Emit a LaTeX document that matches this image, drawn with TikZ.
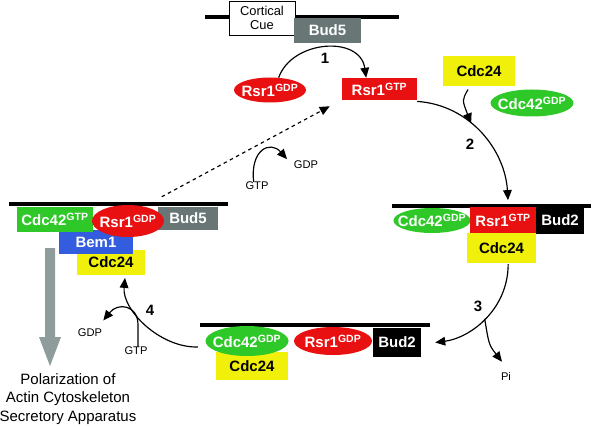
\documentclass[tikz,border=0pt]{standalone}
\usepackage{fontspec}
\setmainfont{Liberation Sans}
\usepackage{tikz}
\usetikzlibrary{shapes.geometric, arrows.meta}
\definecolor{rsrred}{RGB}{232,16,16}
\definecolor{cdcgreen}{RGB}{46,200,40}
\definecolor{cdcyellow}{RGB}{240,240,10}
\definecolor{budgray}{RGB}{104,118,118}
\definecolor{bemblue}{RGB}{52,92,222}
\definecolor{polgray}{RGB}{142,156,156}
\newcommand{\gdp}{\textsuperscript{GDP}}
\newcommand{\gtp}{\textsuperscript{GTP}}
\tikzstyle{prot} = [inner sep=0pt, text=white, font=\fontsize{12.8}{14}\selectfont\bfseries]
\tikzstyle{rsrbox} = [prot, rectangle, fill=rsrred]
\tikzstyle{rsroval} = [prot, ellipse, inner sep=-8pt, fill=rsrred]
\tikzstyle{cdcoval} = [prot, ellipse, inner sep=-8pt, fill=cdcgreen]
\tikzstyle{cdcgtp} = [prot, rectangle, fill=cdcgreen]
\tikzstyle{cdcbox} = [prot, rectangle, fill=cdcyellow, text=black]
\tikzstyle{budbox} = [prot, rectangle, fill=budgray]
\tikzstyle{bembox} = [prot, rectangle, fill=bemblue]
\tikzstyle{bud2box} = [prot, rectangle, fill=black]
\tikzstyle{cuebox} = [rectangle, draw=black, fill=white, line width=0.8pt, inner sep=0pt, align=center, font=\fontsize{11}{12.5}\selectfont]
\tikzstyle{membrane} = [line width=3.4pt]
\tikzstyle{arrow} = [line width=1pt,-{Triangle[length=3mm,width=2.6mm]}]
\tikzstyle{dasharrow} = [arrow, dashed]
\tikzstyle{nuc} = [inner sep=0pt, font=\fontsize{9.5}{11}\selectfont]
\tikzstyle{stepnum} = [inner sep=0pt, font=\fontsize{12.8}{14}\selectfont\bfseries]

\begin{document}
\begin{tikzpicture}[x=0.03cm, y=-0.03cm]
\useasboundingbox (0,0) rectangle (592,427);

\coordinate (mt1) at (205,17);
\coordinate (mt2) at (399,17);
\coordinate (mr1) at (392,206);
\coordinate (mr2) at (591,206);
\coordinate (mb1) at (200,325);
\coordinate (mb2) at (430,325);
\coordinate (ml1) at (9,204);
\coordinate (ml2) at (228,204);
\draw[membrane] (mt1) -- (mt2);
\draw[membrane] (mr1) -- (mr2);
\draw[membrane] (mb1) -- (mb2);
\draw[membrane] (ml1) -- (ml2);

\node (cue) at (262,18) [cuebox, minimum width=1.98cm, minimum height=1.02cm] {Cortical\\Cue};
\node (bud5t) at (327.5,30.5) [budbox, minimum width=2.01cm, minimum height=0.75cm] {Bud5};
\node (rgdp1) at (270,90) [rsroval, minimum width=2.16cm, minimum height=0.75cm] {Rsr1\gdp};
\node (rgtp1) at (379.5,89) [rsrbox, minimum width=2.25cm, minimum height=0.66cm] {Rsr1\gtp};
\node (cdc24a) at (479,71) [cdcbox, minimum width=2.16cm, minimum height=0.9cm] {Cdc24};
\node (cdc42a) at (532,103) [cdcoval, minimum width=2.49cm, minimum height=0.81cm] {Cdc42\gdp};

\node (cdc24b) at (501.5,248) [cdcbox, minimum width=2.07cm, minimum height=0.9cm] {Cdc24};
\node (cdc42b) at (432,220.5) [cdcoval, minimum width=2.31cm, minimum height=0.75cm] {Cdc42\gdp};
\node (rgtp2) at (503,220) [rsrbox, minimum width=1.98cm, minimum height=0.78cm] {Rsr1\gtp};
\node (bud2a) at (560,220.5) [bud2box, minimum width=1.44cm, minimum height=0.81cm] {Bud2};

\node (cdc24c) at (252,366) [cdcbox, minimum width=2.16cm, minimum height=0.84cm] {Cdc24};
\node (cdc42c) at (247,341) [cdcoval, minimum width=2.49cm, minimum height=0.9cm] {Cdc42\gdp};
\node (rgdp3) at (333,341) [rsroval, minimum width=2.34cm, minimum height=0.84cm] {Rsr1\gdp};
\node (bud2b) at (397,342.5) [bud2box, minimum width=1.44cm, minimum height=0.87cm] {Bud2};

\node (cdc24l) at (111,262.5) [cdcbox, minimum width=2.04cm, minimum height=0.75cm] {Cdc24};
\node (bem1) at (96,242) [bembox, minimum width=2.22cm, minimum height=0.72cm] {Bem1};
\node (cdc42l) at (55,219.5) [cdcgtp, minimum width=2.28cm, minimum height=0.75cm] {Cdc42\gtp};
\node (bud5l) at (188,218.5) [budbox, minimum width=1.8cm, minimum height=0.69cm] {Bud5};
\node (rgdpl) at (128,221) [rsroval, minimum width=2.16cm, minimum height=0.96cm] {Rsr1\gdp};

\fill[polgray] (45,248) -- (55,248) -- (55,337) -- (61,337) -- (50,366) -- (39,337) -- (45,337) -- cycle;
\node (pol) at (68,399) [align=center, inner sep=0pt, font=\fontsize{12.8}{15.5}\selectfont] {Polarization of\\Actin Cytoskeleton\\Secretory Apparatus};

\node (n1) at (325,58) [stepnum] {1};
\node (n2) at (470,144) [stepnum] {2};
\node (n3) at (478,306) [stepnum] {3};
\node (n4) at (150,310) [stepnum] {4};

\node (gtpd) at (257,186) [nuc] {GTP};
\node (gdpd) at (306,165) [nuc] {GDP};
\node (gtp4) at (136,351) [nuc] {GTP};
\node (gdp4) at (90,333) [nuc] {GDP};
\node (pi) at (506,376) [nuc] {Pi};

\draw[arrow] (rgdp1.55) .. controls (292,40) and (360,35) .. ([xshift=-0.4cm]rgtp1.north);
\draw[arrow] ([yshift=-1pt]rgtp1.south east) .. controls (470,105) and (505,150) .. ([xshift=0.15cm, yshift=0.2cm]rgtp2.north) coordinate[pos=0.4] (j2);
\draw[arrow] ([xshift=-0.33cm, yshift=-0.1cm]cdc24a.south) .. controls (462,100) .. (j2);
\draw[arrow] ([xshift=0.2cm, yshift=-0.03cm]cdc24b.south) .. controls (508,310) and (470,338) .. ([xshift=0.42cm]bud2b.east) coordinate[pos=0.5] (j3);
\draw[arrow] (j3) .. controls (489,345) .. ([xshift=-0.12cm, yshift=0.3cm]pi.north);
\draw[arrow] ([xshift=-0.22cm, yshift=-0.18cm]cdc42c.west) .. controls (160,348) and (122,310) .. ([xshift=0.42cm, yshift=-0.08cm]cdc24l.south);
\draw[arrow] ([xshift=0.06cm]gtp4.north) -- ++(0,-22) .. controls (138,305) and (118,302) .. ([xshift=0.4cm, yshift=0.25cm]gdp4.north);
\draw[dasharrow] ([shift={(4,-10)}]bud5l.north west) -- ([shift={(-12,6)}]rgtp1.south west);
\draw[arrow] ([xshift=-0.1cm]gtpd.north) .. controls (250,150) and (270,140) .. ([xshift=-0.2cm, yshift=0.05cm]gdpd.north west);
\end{tikzpicture}
\end{document}
